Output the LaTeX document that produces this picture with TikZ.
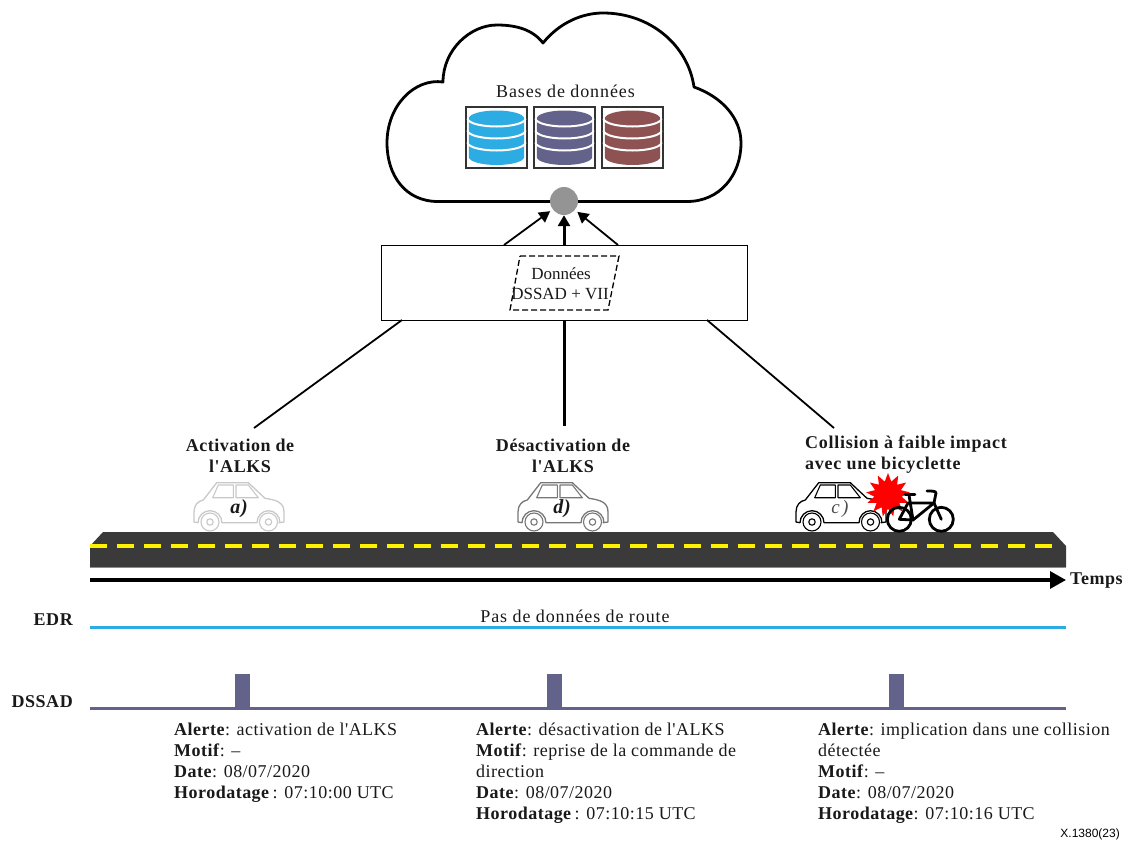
\documentclass[tikz,border=0pt]{standalone}
\usepackage{fontspec}
\setmainfont{Liberation Serif}[LetterSpace=4,Ligatures=TeXOff]
\newfontfamily\labelsans{Liberation Sans}
\usetikzlibrary{arrows.meta,shapes.geometric}
\definecolor{dbblue}{HTML}{2DABE3}
\definecolor{dbviolet}{HTML}{62628A}
\definecolor{dbred}{HTML}{8E5252}
\definecolor{roadgrey}{HTML}{3A3A3A}
\definecolor{cara}{HTML}{C8C8C8}
\definecolor{card}{HTML}{777777}
\tikzset{
  x=1pt,y=-1pt,
  base/.style={font=\fontsize{18}{21}\selectfont,inner sep=0pt,text=black!90},
  wide/.style={base,font=\fontsize{18}{21}\selectfont\addfontfeature{LetterSpace=5}},
  boldlabel/.style={base,font=\fontsize{18}{21}\selectfont\bfseries\addfontfeature{LetterSpace=3},align=center},
  alertbox/.style={base,font=\fontsize{18}{21}\selectfont\addfontfeature{LetterSpace=2.7},anchor=north west,align=left},
  carmark/.style={base,font=\fontsize{20}{22}\selectfont\bfseries\itshape},
  link/.style={line width=1.8pt},
  linkarrow/.style={link,-{Triangle[length=11pt,width=12pt]},shorten >=3pt},
  mainarrow/.style={linkarrow,line width=3pt},
  tickmark/.style={fill=dbviolet},
  pics/car/.style={code={
    \draw[#1,line width=1.3pt,line join=round,line cap=round]
      (4,40.7) -- (0,40) -- (0,30) .. controls (0,23) and (4,19) .. (9.3,18)
      -- (22.7,.7) -- (54.3,.7) -- (71,16.3) .. controls (82,18) and (90,20) .. (90,30)
      -- (90,40) -- (85,40.7)
      (4,40.7) arc[start angle=180,end angle=360,x radius=12,y radius=12]
      (28,40.7) -- (63,40.7)
      (63,40.7) arc[start angle=180,end angle=360,x radius=11.5,y radius=12];
    \draw[#1,line width=1.1pt,line join=round]
      (18.7,15.7) -- (24.3,3) -- (39.3,3) -- (39.3,15.7) -- cycle
      (42,3) -- (54.3,3) -- (64.3,15.7) -- (42,15.7) -- cycle;
    \draw[#1,line width=1.1pt]
      (16,40) circle[radius=9] (16,40) circle[radius=3.2]
      (74.5,40) circle[radius=9] (74.5,40) circle[radius=3.2];
  }},
  pics/database/.style={code={
    \draw[black!80,line width=1.2pt,fill=white] (-30.5,-30.5) rectangle (30.5,30.5);
    \fill[#1] (-27.7,-19) -- (27.7,-19) -- (27.7,19.5)
      arc[start angle=0,end angle=180,x radius=27.7,y radius=8] -- cycle;
    \fill[#1] (0,-19) ellipse[x radius=27.7,y radius=8];
    \foreach \cy in {-19,-7,5}
      \draw[white,line width=2pt] (-29,\cy) arc[start angle=180,end angle=0,x radius=29,y radius=8];
  }}
}
\begin{document}
\begin{tikzpicture}
\useasboundingbox (0,0) rectangle (1129,843);
% cloud
\draw[line width=2.8pt,line join=round,fill=white] (438,201.5)
  .. controls (405,201.5) and (387,175) .. (387,143)
  .. controls (387,105) and (415,78) .. (443,82)
  .. controls (443,50) and (470,25) .. (497,25)
  .. controls (517,25) and (533,30) .. (543,43)
  .. controls (560,22) and (583,13) .. (603,13)
  .. controls (650,13) and (688,45) .. (694,87)
  .. controls (722,97) and (741,118) .. (741,143)
  .. controls (741,175) and (720,201.5) .. (687,201.5) -- cycle;
\node[wide] (dbtitle) at (565.5,91) {Bases de données};
\pic at (496.5,137.5) {database=dbblue};
\pic at (564.5,137.5) {database=dbviolet};
\pic at (632.5,137.5) {database=dbred};
\node[circle,fill=black!42,minimum size=28pt,inner sep=0pt] (dot) at (564,201) {};
% data box
\node[draw,line width=1pt,minimum width=366pt,minimum height=74.5pt,inner sep=0pt,fill=white] (box) at (564,283) {};
\draw[line width=1.3pt,dash pattern=on 6pt off 3pt] (520,256) -- (619,256) -- (608,310) -- (510,310) -- cycle;
\node[inner sep=0pt,font=\fontsize{17}{20}\selectfont\addfontfeature{LetterSpace=0},text=black!90] (dta) at (561,274) {Données};
\node[inner sep=0pt,font=\fontsize{17}{20}\selectfont\addfontfeature{LetterSpace=0},text=black!90] (dtb) at (560,294) {DSSAD + VII};
% connectors
\coordinate (ula) at (504,245); \coordinate (ulb) at (618,245); \coordinate (ulc) at (564,245);
\coordinate (lla) at (402,320); \coordinate (llb) at (707,320); \coordinate (llc) at (564,320);
\coordinate (ca) at (254,428); \coordinate (cb) at (834,428); \coordinate (cc) at (564,426);
\draw[linkarrow] (ula) -- (dot);
\draw[linkarrow] (ulb) -- (dot);
\draw[mainarrow,shorten >=0pt] (ulc) -- (dot);
\draw[link] (ca) -- (lla);
\draw[link] (cb) -- (llb);
\draw[link,line width=3pt] (cc) -- (llc);
% event labels
\node[boldlabel] (la) at (240,455.5) {Activation de\\l'ALKS};
\node[boldlabel] (lb) at (563,455.5) {Désactivation de\\l'ALKS};
\node[boldlabel,font=\fontsize{18}{21}\selectfont\bfseries\addfontfeature{LetterSpace=4},align=left,anchor=north west] (lc) at (805,436) {Collision à faible impact\\avec une bicyclette};
% road
\fill[roadgrey] (90,546) -- (103,532) -- (1053,532) -- (1066,546) -- (1066,567) -- (90,567) -- cycle;
\draw[black!45,line width=.8pt] (90,567) -- (1066,567);
\draw[yellow,line width=3.2pt,dash pattern=on 17pt off 10pt] (90,546) -- (1057,546);
% cars
\pic at (194,482) {car=cara};
\pic at (518,482) {car=card};
\pic at (796,482) {car=black};
\node[carmark] (ta) at (239,509) {a)};
\node[carmark] (td) at (562,509) {d)};
\node[carmark,font=\fontsize{19}{22}\selectfont\itshape\addfontfeature{LetterSpace=12},text=black!70] (tc) at (840,509) {c)};
% collision star
\node[star,star points=13,star point ratio=1.6,minimum size=44pt,inner sep=0pt,fill=red] (boom) at (888,495) {};
% bicycle
\begin{scope}[line width=2.8pt,line join=round,line cap=round]
\draw (899.3,519.3) circle[radius=12] (941.3,519.3) circle[radius=12];
\draw (899.3,519.3) -- (908,503) -- (934,503) -- (913,520) -- cycle;
\draw (905,494.5) -- (915,494.5) (909,495) -- (913,520);
\draw (941.3,519.3) -- (934,503) -- (936,493) .. controls (936,491) and (932,491) .. (927,491);
\end{scope}
% time axis
\coordinate (ts) at (90,580); \coordinate (te) at (1066,580);
\draw[line width=3.2pt,-{Triangle[length=16pt,width=17pt]}] (ts) -- (te);
\node[boldlabel,anchor=west] (temps) at (1070,581) {Temps};
% EDR
\node[boldlabel,anchor=east] (edr) at (73,620) {EDR};
\node[wide] (nodata) at (575,616) {Pas de données de route};
\draw[dbblue,line width=3pt] (90,627) -- (1066,627);
% DSSAD
\node[boldlabel,anchor=east] (dssad) at (73,702) {DSSAD};
\draw[dbviolet,line width=3pt] (90,708) -- (1066,708);
\fill[tickmark] (235,674) rectangle (250,708);
\fill[tickmark] (547,674) rectangle (562,708);
\fill[tickmark] (889,674) rectangle (904,708);
\node[alertbox] (aa) at (174,722.5) {\textbf{Alerte}: activation de l'ALKS\\\textbf{Motif}: –\\\textbf{Date}: 08/07/2020\\\textbf{Horodatage}\,: 07:10:00 UTC};
\node[alertbox] (ab) at (476,722.5) {\textbf{Alerte}: désactivation de l'ALKS\\\textbf{Motif}: reprise de la commande de\\direction\\\textbf{Date}: 08/07/2020\\\textbf{Horodatage}\,: 07:10:15 UTC};
\node[alertbox] (ac) at (818,722.5) {\textbf{Alerte}: implication dans une collision\\détectée\\\textbf{Motif}: –\\\textbf{Date}: 08/07/2020\\\textbf{Horodatage}: 07:10:16 UTC};
\node[inner sep=0pt,anchor=east,font=\labelsans\fontsize{12}{14}\selectfont] (ref) at (1120,834) {X.1380(23)};
\end{tikzpicture}
\end{document}
